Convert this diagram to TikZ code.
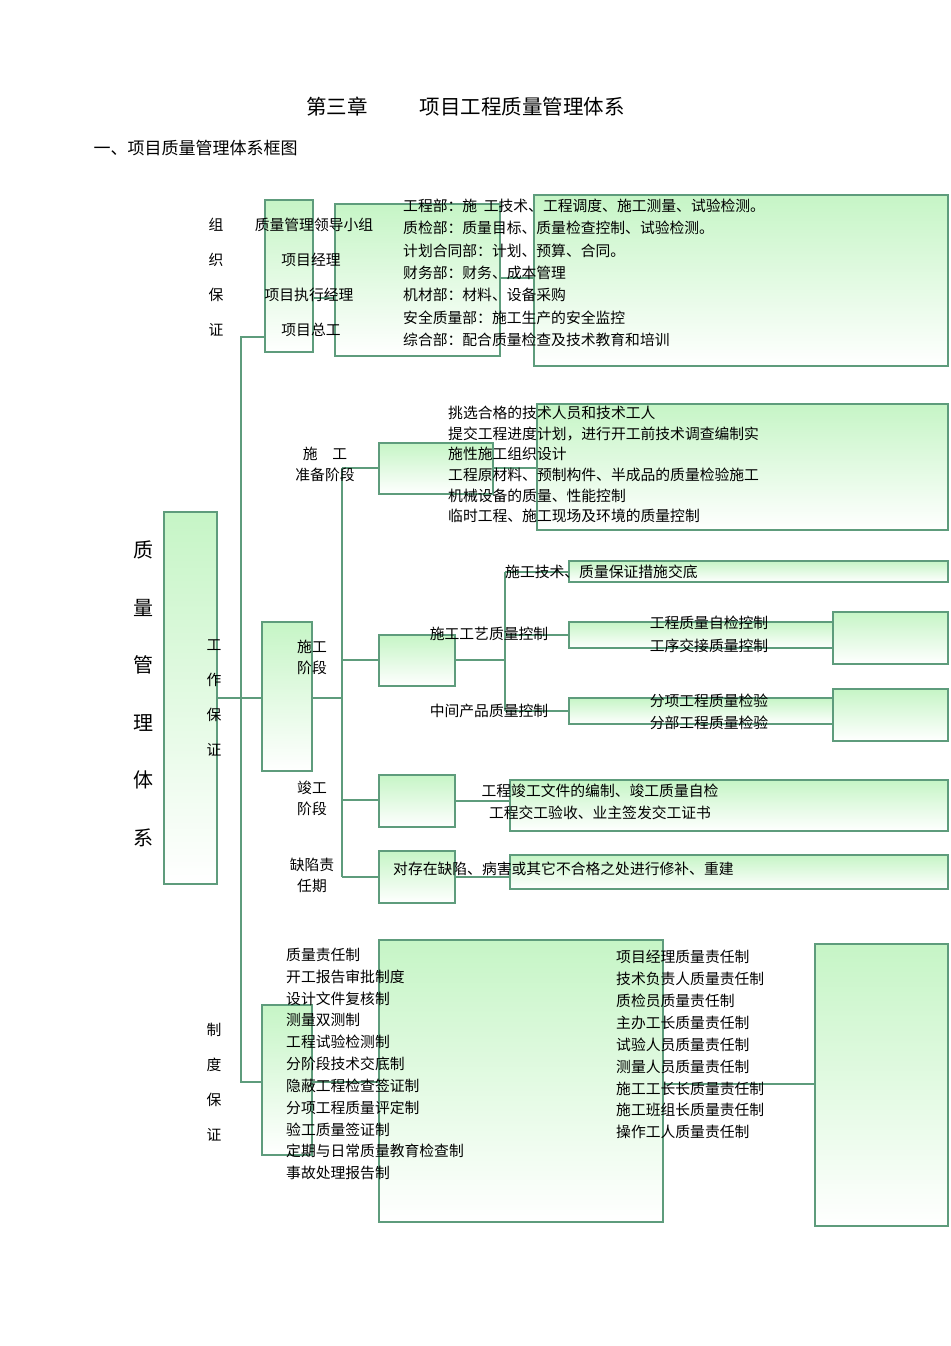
\documentclass[tikz,border=0pt]{standalone}
\usepackage{fontspec}
\setmainfont{Noto Sans CJK SC}
\begin{document}
\begin{tikzpicture}[x=1pt,y=-1pt,
  bx/.style={draw=ln,line width=1.4pt,top color=gf,bottom color=white},
  ln/.style={draw=ln,line width=1.4pt},
  tx/.style={font=\fontsize{14.8}{14.8}\selectfont,inner sep=0pt},
  lt/.style={tx,anchor=west}]
\definecolor{ln}{HTML}{5E9C7C}
\definecolor{gf}{HTML}{C6F5C6}
\useasboundingbox (0,0) rectangle (950,1346);
\node[font=\fontsize{20.5}{20.5}\selectfont] (t1) at (337,107) {第三章};
\node[font=\fontsize{20.5}{20.5}\selectfont] (t2) at (522,107) {项目工程质量管理体系};
\node[font=\fontsize{17}{17}\selectfont,anchor=west] (t3) at (90,148) {一、项目质量管理体系框图};
% main box
\path[bx] (164,512) rectangle (217,884);
\foreach \c/\y in {质/550,量/608,管/665,理/723,体/780,系/838}
  \node[font=\fontsize{20}{20}\selectfont] at (143,\y) {\c};
% trunk
\draw[ln] (265,337) -- (241,337) -- (241,1082) -- (262,1082);
\draw[ln] (217,698) -- (262,698);
% organisation
\path[bx] (265,200) rectangle (313,352);
\path[bx] (335,204) rectangle (500,356);
\path[bx] (534,195) rectangle (948,366);
\draw[ln] (313,298) -- (335,298);
\draw[ln] (500,278) -- (534,278);
\foreach \c/\y in {组/225,织/260,保/295,证/330} \node[tx] at (216,\y) {\c};
\node[tx] at (314,225) {质量管理领导小组};
\node[tx] at (311,260) {项目经理};
\node[tx] at (309,295) {项目执行经理};
\node[tx] at (311,330) {项目总工};
\foreach \t [count=\i from 0] in {工程部：施\ \ 工技术、工程调度、施工测量、试验检测。,质检部：质量目标、质量检查控制、试验检测。,计划合同部：计划、预算、合同。,财务部：财务、成本管理,机材部：材料、设备采购,安全质量部：施工生产的安全监控,综合部：配合质量检查及技术教育和培训}
  \node[lt] at (403,206+22.3*\i) {\t};
% work guarantee
\path[bx] (262,622) rectangle (312,771);
\foreach \c/\y in {工/645,作/680,保/715,证/750} \node[tx] at (214,\y) {\c};
\node[tx] at (312,647) {施工}; \node[tx] at (312,668) {阶段};
\draw[ln] (312,698) -- (342,698);
\draw[draw=ln,line width=2.4pt] (342,468) -- (342,877);
\foreach \y in {468,660,800,877} \draw[ln] (342,\y) -- (379,\y);
% prep
\path[bx] (379,443) rectangle (493,494);
\path[bx] (537,404) rectangle (948,530);
\draw[ln] (493,468) -- (537,468);
\node[tx] at (325,454) {施\quad 工}; \node[tx] at (325,475) {准备阶段};
\foreach \t [count=\i from 0] in {挑选合格的技术人员和技术工人,提交工程进度计划，进行开工前技术调查编制实,施性施工组织设计,工程原材料、预制构件、半成品的质量检验施工,机械设备的质量、性能控制,临时工程、施工现场及环境的质量控制}
  \node[lt] at (448,413+20.6*\i) {\t};
% construction
\path[bx] (379,635) rectangle (455,686);
\draw[ln] (455,660) -- (505,660);
\draw[ln] (505,572) -- (505,711);
\draw[ln] (505,572) -- (569,572);
\draw[ln] (505,635) -- (569,635);
\draw[ln] (505,711) -- (569,711);
\path[bx] (569,561) rectangle (948,582);
\node[lt] at (505,572) {施工技术、质量保证措施交底};
\node[tx] at (489,634) {施工工艺质量控制};
\node[tx] at (489,711) {中间产品质量控制};
\path[bx] (569,622) rectangle (833,648);
\path[bx] (833,612) rectangle (948,664);
\node[tx] at (709,623) {工程质量自检控制};
\node[tx] at (709,646) {工序交接质量控制};
\path[bx] (569,698) rectangle (833,724);
\path[bx] (833,689) rectangle (948,741);
\node[tx] at (709,701) {分项工程质量检验};
\node[tx] at (709,723) {分部工程质量检验};
% completion
\node[tx] at (312,788) {竣工}; \node[tx] at (312,809) {阶段};
\path[bx] (379,775) rectangle (455,827);
\path[bx] (510,780) rectangle (948,831);
\draw[ln] (455,801) -- (510,801);
\node[tx] at (600,791) {工程竣工文件的编制、竣工质量自检};
\node[tx] at (600,813) {工程交工验收、业主签发交工证书};
% defects
\node[tx] at (312,865) {缺陷责}; \node[tx] at (312,886) {任期};
\path[bx] (379,851) rectangle (455,903);
\path[bx] (510,855) rectangle (948,889);
\draw[ln] (455,877) -- (510,877);
\node[lt] at (393,869) {对存在缺陷、病害或其它不合格之处进行修补、重建};
% system
\foreach \c/\y in {制/1030,度/1065,保/1100,证/1135} \node[tx] at (214,\y) {\c};
\path[bx] (262,1005) rectangle (312,1155);
\path[bx] (379,940) rectangle (663,1222);
\path[bx] (815,944) rectangle (948,1226);
\draw[ln] (312,1082) -- (379,1082);
\draw[ln] (663,1084) -- (815,1084);
\foreach \t [count=\i from 0] in {质量责任制,开工报告审批制度,设计文件复核制,测量双测制,工程试验检测制,分阶段技术交底制,隐蔽工程检查签证制,分项工程质量评定制,验工质量签证制,定期与日常质量教育检查制,事故处理报告制}
  \node[lt] at (286,955+21.8*\i) {\t};
\foreach \t [count=\i from 0] in {项目经理质量责任制,技术负责人质量责任制,质检员质量责任制,主办工长质量责任制,试验人员质量责任制,测量人员质量责任制,施工工长长质量责任制,施工班组长质量责任制,操作工人质量责任制}
  \node[lt] at (616,957+21.9*\i) {\t};
\end{tikzpicture}
\end{document}
